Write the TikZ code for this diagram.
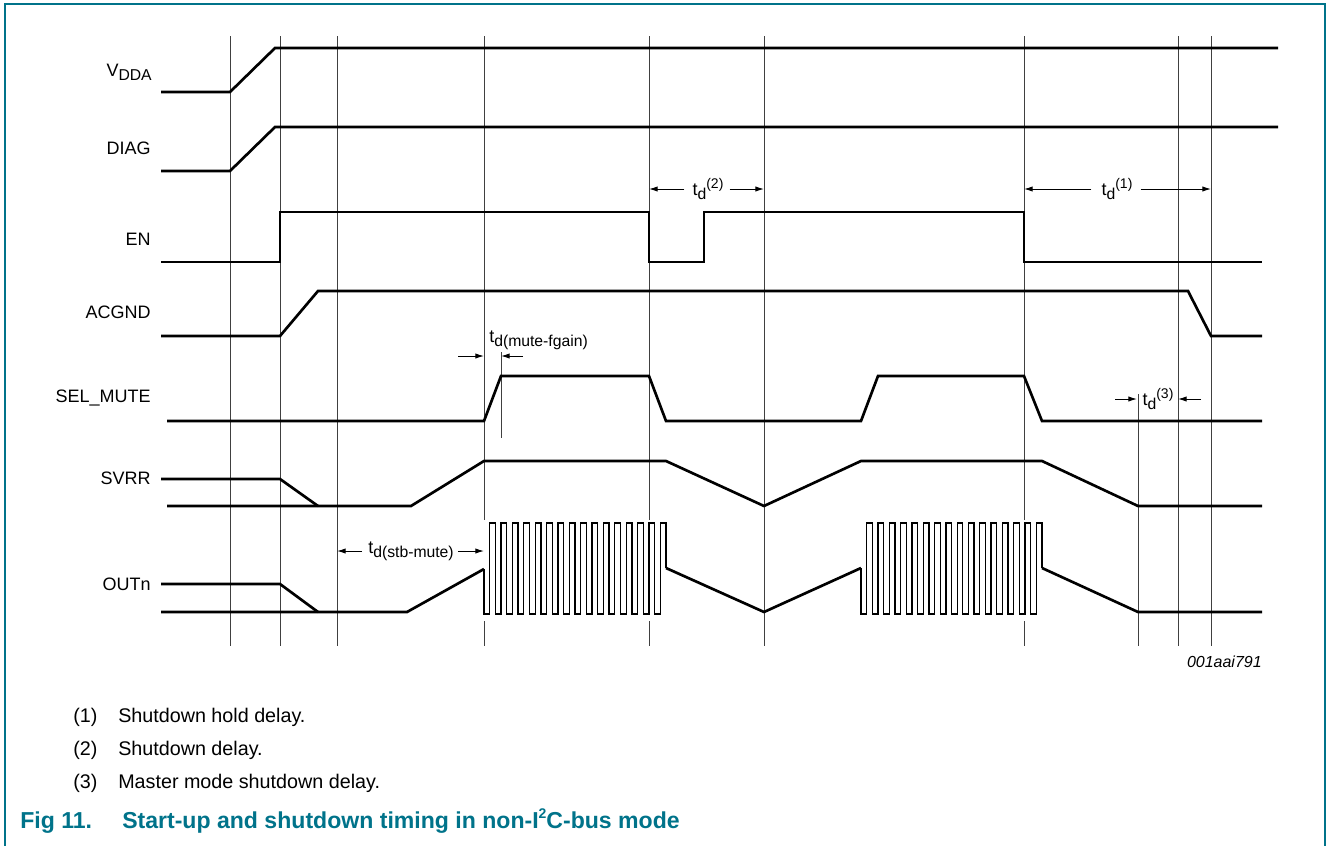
\documentclass[tikz,border=0pt]{standalone}
\usepackage{fontspec}
\setmainfont{Liberation Sans}
\usetikzlibrary{arrows.meta}
\definecolor{nxpteal}{RGB}{0,115,138}
\newcommand{\sbs}[1]{\raisebox{-0.45ex}{\fontsize{11.8}{12}\selectfont #1}}
\newcommand{\sps}[1]{\raisebox{0.75ex}{\fontsize{10.5}{11}\selectfont #1}}
\begin{document}
\begin{tikzpicture}[x=0.75pt,y=-0.75pt,
  sig/.style={line width=2pt, line join=miter},
  gridl/.style={line width=0.75pt, black!75},
  burst/.style={line width=1pt},
  dimarrow/.style={line width=0.75pt, -{Latex[length=6.5pt,width=4pt]}},
  lab/.style={anchor=east, font=\fontsize{13.5}{16}\selectfont, inner sep=0pt},
  ann/.style={font=\fontsize{13.5}{16}\selectfont, inner sep=0pt},
  note/.style={anchor=base west, font=\fontsize{14.8}{16}\selectfont, inner sep=0pt},
  capstyle/.style={anchor=base west, inner sep=0pt, text=nxpteal, font=\fontsize{17.3}{20}\selectfont\bfseries},
  ]
\useasboundingbox (0,0) rectangle (1328,846);
% frame
\draw[nxpteal, line width=1.1pt] (5,846) -- (5,4) -- (1325,4) -- (1325,846);

% grid lines
\foreach \x in {230,280,337,764,1178,1211} \draw[gridl] (\x,36) -- (\x,646);
\foreach \x in {484,649,1024} {\draw[gridl] (\x,36) -- (\x,520); \draw[gridl] (\x,621) -- (\x,646);}
\draw[gridl] (1138,394) -- (1138,646);
\draw[gridl] (501,352) -- (501,438);

% labels
\node[lab] (lvdda) at (152,72) {V\sbs{DDA}};
\node[lab] (ldiag) at (151,148) {DIAG};
\node[lab] (len) at (151,239) {EN};
\node[lab] (lacgnd) at (151,312) {ACGND};
\node[lab] (lsel) at (151,398) {SEL\_MUTE};
\node[lab] (lsvrr) at (151,478) {SVRR};
\node[lab] (lout) at (151,584) {OUTn};

% signals
\draw[sig] (161,92) -- (230,92) -- (275,48) -- (1278,48);
\draw[sig] (161,171) -- (230,171) -- (275,127) -- (1278,127);
\draw[sig] (161,262) -- (280,262) -- (280,212) -- (649,212) -- (649,262) -- (704,262) -- (704,212) -- (1024,212) -- (1024,262) -- (1262,262);
\draw[sig] (161,336) -- (280,336) -- (318,291) -- (1188,291) -- (1211,336) -- (1262,336);
\draw[sig] (167,421) -- (484,421) -- (501,376) -- (649,376) -- (666,421) -- (861,421) -- (878,376) -- (1024,376) -- (1042,421) -- (1262,421);
\draw[sig] (161,479) -- (280,479) -- (318,506);
\draw[sig] (167,506) -- (411,506) -- (484,461) -- (666,461) -- (764,506) -- (861,461) -- (1042,461) -- (1138,506) -- (1262,506);
\draw[sig] (161,584) -- (280,584) -- (318,612);
\draw[sig] (161,612) -- (407,612) -- (484,569);
\draw[sig] (666,568) -- (764,612) -- (861,568);
\draw[sig] (1042,568) -- (1138,612) -- (1262,612);

% bursts
\pgfmathsetmacro{\hw}{182/32}
\draw[burst] (484,569) -- (484,614)
  \foreach \i in {1,...,15} { -- ++(\hw,0) -- ++(0,-91) -- ++(\hw,0) -- ++(0,91) }
  -- ++(\hw,0) -- ++(0,-91) -- ++(\hw,0) -- ++(0,45);
\pgfmathsetmacro{\hwb}{181/32}
\draw[burst] (861,568) -- (861,614)
  \foreach \i in {1,...,15} { -- ++(\hwb,0) -- ++(0,-91) -- ++(\hwb,0) -- ++(0,91) }
  -- ++(\hwb,0) -- ++(0,-91) -- ++(\hwb,0) -- ++(0,45);

% annotations
\node[ann] (td2) at (708,189) {t\sbs{d}\sps{(2)}};
\coordinate (a2l) at (649,189); \coordinate (a2r) at (764,189);
\draw[dimarrow] (td2.west) ++(-8,0) -- (a2l);
\draw[dimarrow] (td2.east) ++(6,0) -- (a2r);

\node[ann] (td1) at (1117,189) {t\sbs{d}\sps{(1)}};
\coordinate (a1l) at (1024,189); \coordinate (a1r) at (1211,189);
\draw[dimarrow] (td1.west) ++(-10,0) -- (a1l);
\draw[dimarrow] (td1.east) ++(8,0) -- (a1r);

\node[ann] (td3) at (1158,399) {t\sbs{d}\sps{(3)}};
\coordinate (a3l) at (1137,399); \coordinate (a3r) at (1178,399);
\coordinate (a3ls) at (1115,399); \coordinate (a3rs) at (1201,399);
\draw[dimarrow] (a3ls) -- (a3l);
\draw[dimarrow] (a3rs) -- (a3r);

\node[ann, anchor=west] (tdmf) at (489,340) {t\sbs{d(mute-fgain)}};
\coordinate (amfl) at (484,356); \coordinate (amfr) at (501,356);
\coordinate (amfls) at (458,356); \coordinate (amfrs) at (523,356);
\draw[dimarrow] (amfls) -- (amfl);
\draw[dimarrow] (amfrs) -- (amfr);

\node[ann] (tdsm) at (411,551) {t\sbs{d(stb-mute)}};
\coordinate (asml) at (337,551); \coordinate (asmr) at (484,551);
\draw[dimarrow] (tdsm.west) ++(-6,0) -- (asml);
\draw[dimarrow] (tdsm.east) ++(4,0) -- (asmr);

\node[anchor=east, inner sep=0pt, font=\fontsize{12}{14}\selectfont\itshape] (code) at (1262,662) {001aai791};

% notes
\node[note] (n1) at (73,722) {(1)};
\node[note] (n1t) at (118,722) {Shutdown hold delay.};
\node[note] (n2) at (73,755) {(2)};
\node[note] (n2t) at (118,755) {Shutdown delay.};
\node[note] (n3) at (73,788) {(3)};
\node[note] (n3t) at (118,788) {Master mode shutdown delay.};
\node[capstyle] (cap) at (20,828) {Fig 11.};
\node[capstyle] (capt) at (122,828) {Start-up and shutdown timing in non-I\sps{2}C-bus mode};
\end{tikzpicture}
\end{document}
